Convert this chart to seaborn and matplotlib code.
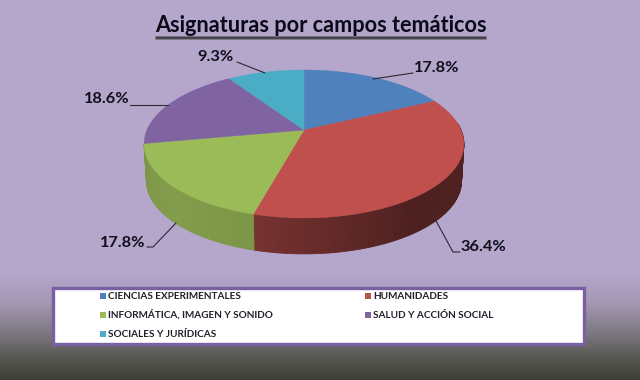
import numpy as np
import matplotlib
matplotlib.use("Agg")
import matplotlib.pyplot as plt
from matplotlib.patches import Rectangle
from matplotlib.colors import LinearSegmentedColormap, to_rgb
import seaborn as sns

# data
categorias = ["CIENCIAS EXPERIMENTALES", "HUMANIDADES", "INFORMÁTICA, IMAGEN Y SONIDO",
              "SALUD Y ACCIÓN SOCIAL", "SOCIALES Y JURÍDICAS"]
valores = [17.8, 36.4, 17.8, 18.6, 9.3]
etiquetas = ["17.8%", "36.4%", "17.8%", "18.6%", "9.3%"]
titulo = "Asignaturas por campos temáticos"
colores = ["#4F81BD", "#C0504D", "#9BBB59", "#8064A2", "#4BACC6"]

sns.set_theme(style="white")
plt.rcParams["font.family"] = ["Lato", "DejaVu Sans"]
paleta = sns.color_palette(colores)

fig = plt.figure(figsize=(6.4, 3.8), dpi=100)
ax = fig.add_axes([0, 0, 1, 1])
ax.set_xlim(0, 640)
ax.set_ylim(380, 0)
ax.axis("off")

# fondo
fondo = LinearSegmentedColormap.from_list("fondo", [
    (0.0, "#B5A6CC"), (0.72, "#B5A6CC"), (0.80, "#A598B4"),
    (0.88, "#7C7880"), (0.94, "#5A5A54"), (1.0, "#3E3F36")])
ax.imshow(np.linspace(0, 1, 380).reshape(-1, 1), cmap=fondo, aspect="auto",
          extent=[0, 640, 380, 0], zorder=0)

# proyeccion de la tarta (perspectiva)
cx, cy = 304, 144
RX, RY, C, B = 157, 74, 0.189, 14
grosor = 37


def proyecta(ang, dy=0, esc=1.0):
    u, v = np.sin(ang), np.cos(ang)
    d = 1 + C * v
    return cx + esc * RX * u / d, cy + dy - esc * (RY * v + B) / d


acum = np.cumsum([0] + valores) / sum(valores) * 2 * np.pi

# paredes laterales (solo rojo y verde se ven)
for i, col in enumerate(paleta):
    a0, a1 = max(acum[i], np.pi * 0.47), min(acum[i + 1], np.pi * 1.44)
    if a1 <= a0:
        continue
    angs = np.linspace(a0, a1, int((a1 - a0) * 60) + 2)
    for j in range(len(angs) - 1):
        t = (angs[j] - np.pi / 2) / np.pi
        if i == 1:
            f = np.interp(t, [0, 0.3, 0.58], [0.42, 0.40, 0.62])
        else:
            f = np.interp(t, [0.58, 0.75, 0.94], [0.80, 0.84, 0.80])
        c = np.array(to_rgb(col)) * f
        xa, ya = proyecta(angs[j])
        xb, yb = proyecta(angs[j + 1])
        xc, yc = proyecta(angs[j + 1], grosor, 0.985)
        xd, yd = proyecta(angs[j], grosor, 0.985)
        ax.fill([xa, xb, xc, xd], [ya, yb, yc, yd], facecolor=c, edgecolor=c,
                lw=0.6, zorder=2)

# cara superior
for i, col in enumerate(paleta):
    angs = np.linspace(acum[i], acum[i + 1], 80)
    xs, ys = proyecta(angs)
    ax.fill(np.r_[cx, xs], np.r_[cy - B, ys], color=col, lw=0.3, zorder=3)

# titulo
ax.text(320.5, 25, titulo, ha="center", va="center", fontsize=15.6, fontweight="bold",
        color="#0A0A18", zorder=5)
for y0, col in zip([35, 36, 37, 38], ["#77707F", "#45424A", "#45424A", "#807A8A"]):
    ax.plot([155, 486], [y0 + 0.5, y0 + 0.5], color=col, lw=0.75, zorder=5,
            solid_capstyle="butt")

# etiquetas y guias
pos_etq = [(437, 68), (483, 247), (123, 243), (107, 99), (216, 57)]
guias = [[(413, 73), (373, 79)],
         [(435, 219), (453, 252), (460, 252)],
         [(147, 247), (153, 247), (176, 223)],
         [(130, 105), (168, 105)],
         [(237, 62), (265, 73)]]
for txt, p, g in zip(etiquetas, pos_etq, guias):
    ax.text(p[0], p[1], txt, ha="center", va="center", fontsize=11.8, fontweight="bold",
            color="#10101C", zorder=6)
    g = np.array(g)
    ax.plot(g[:, 0], g[:, 1], color="#2A2A35", lw=0.8, zorder=4)

# leyenda
ax.add_patch(Rectangle((53, 288), 531, 56, facecolor="white", edgecolor="#7A5FA3",
                       lw=2.4, zorder=4))
pos_ley = [(100, 296), (365, 296), (100, 315), (365, 315), (100, 334)]
for nombre, col, p in zip(categorias, paleta, pos_ley):
    ax.add_patch(Rectangle((p[0], p[1] - 3), 6, 6, facecolor=col, lw=0, zorder=6))
    ax.text(p[0] + 8, p[1] + 3, nombre, ha="left", va="baseline", fontsize=7.2,
            fontweight="bold", color="#20202A", zorder=6)

fig.savefig("out.png", dpi=100)
